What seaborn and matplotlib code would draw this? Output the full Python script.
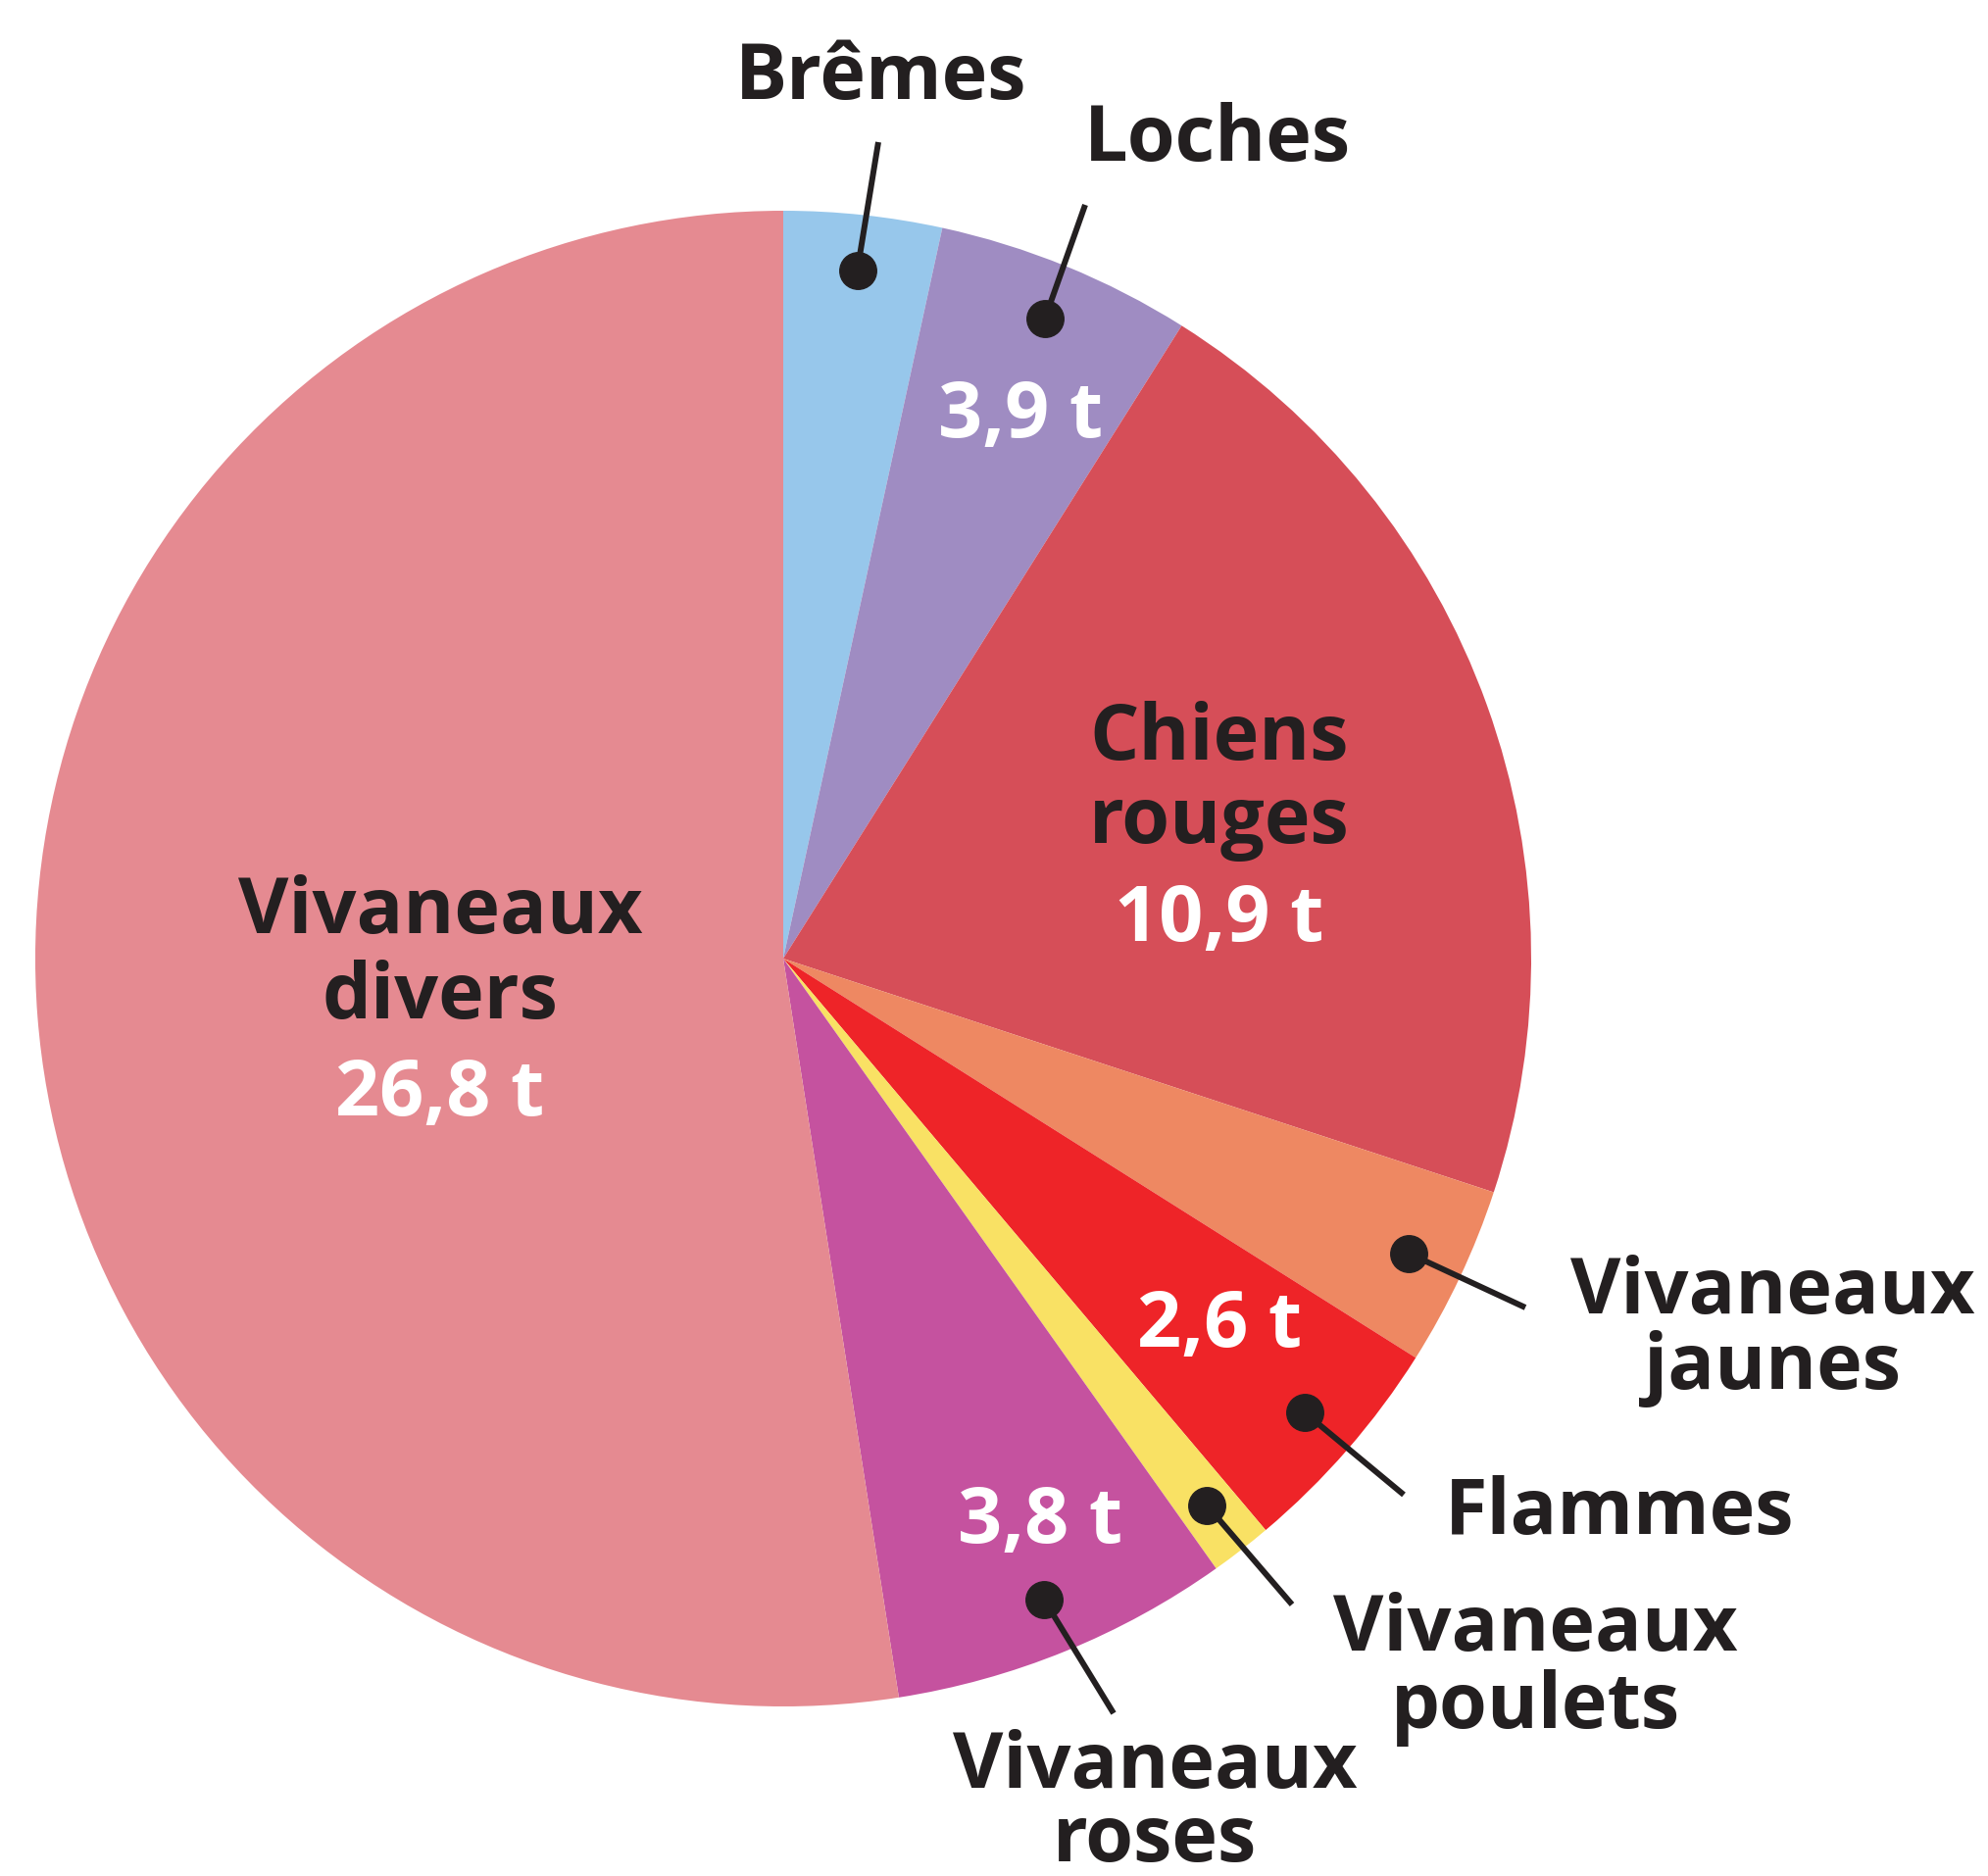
import matplotlib
matplotlib.use("Agg")
import matplotlib.pyplot as plt
import seaborn as sns
import numpy as np

# ---- data (tonnes, slice sizes) ----
species = ["Brêmes", "Loches", "Chiens rouges", "Vivaneaux jaunes", "Flammes",
           "Vivaneaux poulets", "Vivaneaux roses", "Vivaneaux divers"]
tonnes = [1.74, 2.82, 10.77, 1.99, 2.49, 0.68, 3.75, 26.76]
value_labels = ["", "3,9 t", "10,9 t", "", "2,6 t", "", "3,8 t", "26,8 t"]
colors = ["#97C7EB", "#9F8CC2", "#D64E58", "#EE8862", "#EE2428",
          "#F9E164", "#C5529F", "#E58A91"]

W, H = 2028, 1915
DARK = "#231F20"

sns.set_theme(style="white")
plt.rcParams["font.family"] = ["Open Sans", "DejaVu Sans"]

fig = plt.figure(figsize=(W / 100, H / 100), dpi=100)
ax = fig.add_axes([0, 0, 1, 1])


def P(x, y):
    return x, H - y


cx, cy = P(799, 979)
R = 763
wedges, _ = ax.pie(tonnes, colors=colors, startangle=90, counterclock=False,
                   center=(cx, cy), radius=R, frame=True,
                   wedgeprops=dict(linewidth=0))
ax.set_xlim(0, W)
ax.set_ylim(0, H)
ax.set_aspect("equal")
ax.axis("off")

FS = 57
txt = dict(fontsize=FS, fontweight="bold", ha="center", va="baseline",
           multialignment="center")

# in-slice labels (last-line baseline positions)
ax.text(*P(449, 1039), "Vivaneaux\ndivers", color=DARK, linespacing=1.14, **txt)
ax.text(*P(449, 1138), value_labels[7], color="white", **txt)

ax.text(*P(1244, 860), "Chiens\nrouges", color=DARK, linespacing=1.1, **txt)
ax.text(*P(1244, 960), value_labels[2], color="white", **txt)

ax.text(*P(1041, 446), value_labels[1], color="white", **txt)
ax.text(*P(1244, 1374), value_labels[4], color="white", **txt)
ax.text(*P(1061, 1574), value_labels[6], color="white", **txt)

# callouts: dot at wedge mid-angle, line to label
callouts = {
    0: ((896, 146), "Brêmes", (899, 101), 1.0),
    1: ((1107, 210), "Loches", (1242, 164), 1.0),
    3: ((1556, 1335), "Vivaneaux\njaunes", (1808, 1417), 0.97),
    4: ((1432, 1526), "Flammes", (1652, 1565), 1.0),
    5: ((1318, 1638), "Vivaneaux\npoulets", (1566, 1763), 1.0),
    6: ((1136, 1749), "Vivaneaux\nroses", (1178, 1899), 0.93),
}
for i, (end, label, pos, ls) in callouts.items():
    w = wedges[i]
    mid = np.deg2rad((w.theta1 + w.theta2) / 2)
    dx = cx + 0.925 * R * np.cos(mid)
    dy = cy + 0.925 * R * np.sin(mid)
    ex, ey = P(*end)
    ax.plot([dx, ex], [dy, ey], color=DARK, lw=4.3, solid_capstyle="butt", zorder=3)
    ax.plot([dx], [dy], marker="o", markersize=27, color=DARK, zorder=4)
    ax.text(*P(*pos), label, color=DARK, linespacing=ls, **txt)

fig.savefig("out.png", dpi=100, facecolor="white")
